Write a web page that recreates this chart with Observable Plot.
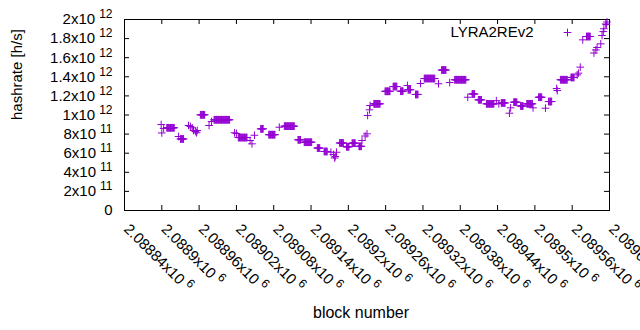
<!DOCTYPE html>
<html><head><meta charset="utf-8">
<script src="https://cdn.jsdelivr.net/npm/d3@7"></script>
<script src="https://cdn.jsdelivr.net/npm/@observablehq/plot@0.6"></script>
<style>
html,body{margin:0;padding:0;background:#fff;}
#chart svg{display:block;}
</style>
</head><body><div id="chart"></div>
<script>
const seriesName = "LYRA2REv2";
const xLabel = "block number";
const yLabel = "hashrate [h/s]";

const blocks = [
 2088899, 2088900, 2088903,
 2088908, 2088909, 2088910, 2088911, 2088912, 2088913, 2088914, 2088915, 2088916, 2088917, 2088918, 2088919, 2088920,
 2088927,
 2088930, 2088931, 2088932, 2088933, 2088934, 2088935,
 2088943, 2088946, 2088949, 2088951, 2088954, 2088956, 2088957,
 2088962, 2088963, 2088964, 2088965, 2088966, 2088967, 2088968, 2088969,
 2088976, 2088980,
 2088984, 2088985, 2088986, 2088987, 2088988, 2088989, 2088990, 2088991, 2088992, 2088993, 2088994, 2088995, 2088996, 2088997, 2088998, 2088999, 2089000, 2089001, 2089002, 2089003, 2089004, 2089005, 2089006, 2089007, 2089008, 2089009,
 2089017, 2089020,
 2089023, 2089024, 2089025, 2089026, 2089027, 2089028, 2089029, 2089030, 2089031, 2089032, 2089033, 2089034, 2089035, 2089036, 2089037,
 2089042, 2089045, 2089049,
 2089059, 2089060, 2089061, 2089062, 2089063,
 2089072, 2089073, 2089074, 2089075, 2089076, 2089077, 2089078, 2089079, 2089080, 2089081, 2089082,
 2089089,
 2089097, 2089098, 2089099, 2089100, 2089101, 2089102, 2089103, 2089104, 2089105, 2089106, 2089107, 2089108, 2089109, 2089110, 2089111, 2089112, 2089113,
 2089119, 2089120, 2089121, 2089122, 2089123,
 2089129, 2089130, 2089131, 2089132, 2089133, 2089134, 2089135, 2089136, 2089137, 2089138, 2089139, 2089140, 2089141,
 2089150, 2089151, 2089152, 2089153, 2089154,
 2089161, 2089162, 2089163, 2089164, 2089165, 2089166,
 2089172, 2089176, 2089178, 2089179, 2089181,
 2089186, 2089187, 2089188, 2089189, 2089190, 2089191, 2089192,
 2089197, 2089198, 2089199, 2089200, 2089201,
 2089206, 2089207, 2089208, 2089209, 2089210, 2089211,
 2089217, 2089218, 2089219, 2089220, 2089221,
 2089222, 2089227, 2089230, 2089231, 2089234, 2089235,
 2089241, 2089242, 2089243, 2089244, 2089245, 2089246, 2089247, 2089248, 2089249, 2089250, 2089251,
 2089259, 2089260, 2089261, 2089262, 2089263, 2089264, 2089265, 2089266, 2089267,
 2089272, 2089273, 2089274, 2089275, 2089276, 2089277, 2089278,
 2089284, 2089285, 2089286, 2089287, 2089288,
 2089295,
 2089296, 2089297, 2089298, 2089299, 2089300,
 2089308, 2089309, 2089310, 2089311, 2089312,
 2089316,
 2089322, 2089323, 2089324, 2089325, 2089326, 2089327, 2089328, 2089329, 2089330, 2089331, 2089332, 2089333, 2089334, 2089335, 2089336, 2089337, 2089338, 2089339,
 2089345,
 2089350, 2089351, 2089352, 2089353, 2089354, 2089355, 2089356, 2089357,
 2089363,
 2089371, 2089372, 2089373, 2089374, 2089375, 2089376, 2089377, 2089378, 2089379, 2089380, 2089381, 2089382, 2089383, 2089384, 2089385, 2089386, 2089387, 2089388, 2089389,
 2089392,
 2089399, 2089400, 2089401, 2089402, 2089403,
 2089409, 2089410, 2089411, 2089412, 2089413, 2089414,
 2089422, 2089423, 2089424, 2089425, 2089426, 2089427, 2089428, 2089429, 2089430, 2089431, 2089432, 2089433, 2089434,
 2089438, 2089442,
 2089446, 2089447, 2089448, 2089449, 2089450, 2089451, 2089452,
 2089459, 2089461,
 2089466, 2089467, 2089468, 2089469, 2089470, 2089471,
 2089477, 2089478, 2089479, 2089480, 2089481,
 2089487, 2089488, 2089489, 2089490, 2089491, 2089492, 2089493, 2089494, 2089495, 2089496,
 2089497,
 2089506, 2089507, 2089508, 2089509, 2089510, 2089511,
 2089517,
 2089522, 2089523, 2089524, 2089525, 2089526, 2089527,
 2089535, 2089536,
 2089541, 2089542, 2089543, 2089544, 2089545, 2089546, 2089547, 2089548, 2089549, 2089550, 2089551, 2089552,
 2089558, 2089559, 2089560, 2089561, 2089562, 2089563,
 2089568, 2089570, 2089573, 2089577,
 2089583, 2089584, 2089585, 2089586, 2089587, 2089588, 2089589,
 2089595, 2089598, 2089600, 2089606, 2089608, 2089610, 2089611, 2089614, 2089615, 2089616
];
const hashrates = [
 9.00e11, 8.12e11, 8.59e11,
 8.66e11, 8.66e11, 8.66e11, 8.66e11, 8.66e11, 8.66e11, 8.66e11, 8.66e11, 8.66e11, 8.66e11, 8.66e11, 8.66e11, 8.66e11,
 7.75e11,
 7.49e11, 7.49e11, 7.49e11, 7.49e11, 7.49e11, 7.49e11,
 8.90e11, 8.80e11, 8.66e11, 8.38e11, 8.27e11, 8.14e11, 8.38e11,
 1.002e12, 1.002e12, 1.002e12, 1.002e12, 1.002e12, 1.002e12, 1.002e12, 1.002e12,
 8.90e11, 9.32e11,
 9.50e11, 9.50e11, 9.50e11, 9.50e11, 9.50e11, 9.50e11, 9.50e11, 9.50e11, 9.50e11, 9.50e11, 9.50e11, 9.50e11, 9.50e11, 9.50e11, 9.50e11, 9.50e11, 9.50e11, 9.50e11, 9.50e11, 9.50e11, 9.50e11, 9.50e11, 9.50e11, 9.50e11, 9.50e11, 9.50e11,
 8.14e11, 8.06e11,
 7.64e11, 7.64e11, 7.64e11, 7.64e11, 7.64e11, 7.64e11, 7.64e11, 7.64e11, 7.64e11, 7.64e11, 7.64e11, 7.64e11, 7.64e11, 7.64e11, 7.64e11,
 7.33e11, 6.98e11, 7.88e11,
 8.55e11, 8.55e11, 8.55e11, 8.55e11, 8.55e11,
 7.94e11, 7.94e11, 7.94e11, 7.94e11, 7.94e11, 7.94e11, 7.94e11, 7.94e11, 7.94e11, 7.94e11, 7.94e11,
 8.72e11,
 8.83e11, 8.83e11, 8.83e11, 8.83e11, 8.83e11, 8.83e11, 8.83e11, 8.83e11, 8.83e11, 8.83e11, 8.83e11, 8.83e11, 8.83e11, 8.83e11, 8.83e11, 8.83e11, 8.83e11,
 7.40e11, 7.40e11, 7.40e11, 7.40e11, 7.40e11,
 7.15e11, 7.15e11, 7.15e11, 7.15e11, 7.15e11, 7.15e11, 7.15e11, 7.15e11, 7.15e11, 7.15e11, 7.15e11, 7.15e11, 7.15e11,
 6.54e11, 6.54e11, 6.54e11, 6.54e11, 6.54e11,
 6.18e11, 6.18e11, 6.18e11, 6.18e11, 6.18e11, 6.18e11,
 6.10e11, 5.86e11, 5.50e11, 5.65e11, 6.10e11,
 7.07e11, 7.07e11, 7.07e11, 7.07e11, 7.07e11, 7.07e11, 7.07e11,
 6.67e11, 6.67e11, 6.67e11, 6.67e11, 6.67e11,
 7.05e11, 7.05e11, 7.05e11, 7.05e11, 7.05e11, 7.05e11,
 6.72e11, 6.72e11, 6.72e11, 6.72e11, 6.72e11,
 7.33e11, 7.80e11, 8.03e11, 9.95e11, 1.054e12, 1.099e12,
 1.117e12, 1.117e12, 1.117e12, 1.117e12, 1.117e12, 1.117e12, 1.117e12, 1.117e12, 1.117e12, 1.117e12, 1.117e12,
 1.248e12, 1.248e12, 1.248e12, 1.248e12, 1.248e12, 1.248e12, 1.248e12, 1.248e12, 1.248e12,
 1.298e12, 1.298e12, 1.298e12, 1.298e12, 1.298e12, 1.298e12, 1.298e12,
 1.249e12, 1.249e12, 1.249e12, 1.249e12, 1.249e12,
 1.309e12,
 1.265e12, 1.265e12, 1.265e12, 1.265e12, 1.265e12,
 1.215e12, 1.215e12, 1.215e12, 1.215e12, 1.215e12,
 1.330e12,
 1.382e12, 1.382e12, 1.382e12, 1.382e12, 1.382e12, 1.382e12, 1.382e12, 1.382e12, 1.382e12, 1.382e12, 1.382e12, 1.382e12, 1.382e12, 1.382e12, 1.382e12, 1.382e12, 1.382e12, 1.382e12,
 1.327e12,
 1.471e12, 1.471e12, 1.471e12, 1.471e12, 1.471e12, 1.471e12, 1.471e12, 1.471e12,
 1.340e12,
 1.369e12, 1.369e12, 1.369e12, 1.369e12, 1.369e12, 1.369e12, 1.369e12, 1.369e12, 1.369e12, 1.369e12, 1.369e12, 1.369e12, 1.369e12, 1.369e12, 1.369e12, 1.369e12, 1.369e12, 1.369e12, 1.369e12,
 1.186e12,
 1.220e12, 1.220e12, 1.220e12, 1.220e12, 1.220e12,
 1.159e12, 1.159e12, 1.159e12, 1.159e12, 1.159e12, 1.159e12,
 1.117e12, 1.117e12, 1.117e12, 1.117e12, 1.117e12, 1.117e12, 1.117e12, 1.117e12, 1.117e12, 1.117e12, 1.117e12, 1.117e12, 1.117e12,
 1.150e12, 1.117e12,
 1.126e12, 1.126e12, 1.126e12, 1.126e12, 1.126e12, 1.126e12, 1.126e12,
 1.019e12, 1.075e12,
 1.134e12, 1.134e12, 1.134e12, 1.134e12, 1.134e12, 1.134e12,
 1.094e12, 1.094e12, 1.094e12, 1.094e12, 1.094e12,
 1.117e12, 1.117e12, 1.117e12, 1.117e12, 1.117e12, 1.117e12, 1.117e12, 1.117e12, 1.117e12, 1.117e12,
 1.075e12,
 1.186e12, 1.186e12, 1.186e12, 1.186e12, 1.186e12, 1.186e12,
 1.071e12,
 1.141e12, 1.141e12, 1.141e12, 1.141e12, 1.141e12, 1.141e12,
 1.277e12, 1.256e12,
 1.369e12, 1.369e12, 1.369e12, 1.369e12, 1.369e12, 1.369e12, 1.369e12, 1.369e12, 1.369e12, 1.369e12, 1.369e12, 1.369e12,
 1.393e12, 1.393e12, 1.393e12, 1.393e12, 1.393e12, 1.393e12,
 1.420e12, 1.438e12, 1.501e12, 1.787e12,
 1.822e12, 1.822e12, 1.822e12, 1.822e12, 1.822e12, 1.822e12, 1.822e12,
 1.649e12, 1.681e12, 1.707e12, 1.745e12, 1.832e12, 1.874e12, 1.903e12, 1.953e12, 1.948e12, 1.974e12
];

const xTicks = [2088840, 2088900, 2088960, 2089020, 2089080, 2089140, 2089200, 2089260, 2089320, 2089380, 2089440, 2089500, 2089560, 2089620];
const xTickLabels = ["2.08884x10^6", "2.0889x10^6", "2.08896x10^6", "2.08902x10^6", "2.08908x10^6", "2.08914x10^6", "2.0892x10^6", "2.08926x10^6", "2.08932x10^6", "2.08938x10^6", "2.08944x10^6", "2.0895x10^6", "2.08956x10^6", "2.08962x10^6"];
const yTicks = [0, 2e11, 4e11, 6e11, 8e11, 1e12, 1.2e12, 1.4e12, 1.6e12, 1.8e12, 2e12];
const yTickLabels = ["0", "2x10^11", "4x10^11", "6x10^11", "8x10^11", "1x10^12", "1.2x10^12", "1.4x10^12", "1.6x10^12", "1.8x10^12", "2x10^12"];

const n = Math.min(blocks.length, hashrates.length);
const data = blocks.slice(0, n).map((b, i) => ({block: b, hashrate: hashrates[i]}));
const xLab = new Map(xTicks.map((t, i) => [t, xTickLabels[i]]));
const yLab = new Map(yTicks.map((t, i) => [t, yTickLabels[i]]));

const W = 640, H = 330, mL = 124, mR = 31, mT = 19, mB = 120;
const fw = W - mL - mR, fh = H - mT - mB, tk = 5;
const color = "#9400d3";
const fs = 15;
const rPlus = 2.6;

const plot = Plot.plot({
  width: W, height: H,
  marginLeft: mL, marginRight: mR, marginTop: mT, marginBottom: mB,
  style: {fontFamily: "'Liberation Sans', Arial, sans-serif", fontSize: fs + "px", color: "#000", background: "#fff"},
  x: {domain: [xTicks[0], xTicks[xTicks.length - 1]], axis: null},
  y: {domain: [yTicks[0], yTicks[yTicks.length - 1]]},
  marks: [
    Plot.tickY(yTicks, {y: d => d, insetRight: fw - tk, stroke: "#000"}),
    Plot.tickY(yTicks, {y: d => d, insetLeft: fw - tk, stroke: "#000"}),
    Plot.tickX(xTicks, {x: d => d, insetTop: fh - tk, stroke: "#000"}),
    Plot.tickX(xTicks, {x: d => d, insetBottom: fh - tk, stroke: "#000"}),
    Plot.frame({stroke: "#000"}),
    Plot.axisY(yTicks, {tickSize: 0, tickPadding: 12, tickFormat: d => yLab.get(d), label: null, fontSize: fs}),
    Plot.text(xTicks, {x: d => d, frameAnchor: "bottom", text: d => xLab.get(d), rotate: 45, textAnchor: "start", lineAnchor: "middle", dx: 2, dy: 16, fontSize: fs, fill: "#000"}),
    Plot.dot(data, {x: "block", y: "hashrate", symbol: "plus", r: rPlus, stroke: color, strokeWidth: 1}),
    Plot.text([seriesName], {frameAnchor: "top-right", text: d => d, textAnchor: "end", lineAnchor: "middle", dx: -76, dy: 13, fontSize: fs, fill: "#000"}),
    Plot.dot([seriesName], {frameAnchor: "top-right", symbol: "plus", r: rPlus, stroke: color, strokeWidth: 1, dx: -42, dy: 13}),
    Plot.text([yLabel], {frameAnchor: "left", text: d => d, rotate: -90, dx: -107, dy: 5, fontSize: 15, fill: "#000"}),
    Plot.text([xLabel], {frameAnchor: "bottom", text: d => d, dx: -6, dy: 107, fontSize: 16, fill: "#000"})
  ]
});

// render "a^b" tick labels as superscripts
plot.querySelectorAll("text").forEach(t => {
  const s = t.textContent;
  if (!s.includes("^") || t.querySelector("tspan")) return;
  const [base, exp] = s.split("^");
  t.textContent = base;
  const ts = document.createElementNS("http://www.w3.org/2000/svg", "tspan");
  ts.setAttribute("dx", "4");
  ts.setAttribute("dy", "-0.5em");
  ts.setAttribute("font-size", "0.8em");
  ts.textContent = exp;
  t.appendChild(ts);
});

document.getElementById("chart").appendChild(plot);
</script>
</body></html>
